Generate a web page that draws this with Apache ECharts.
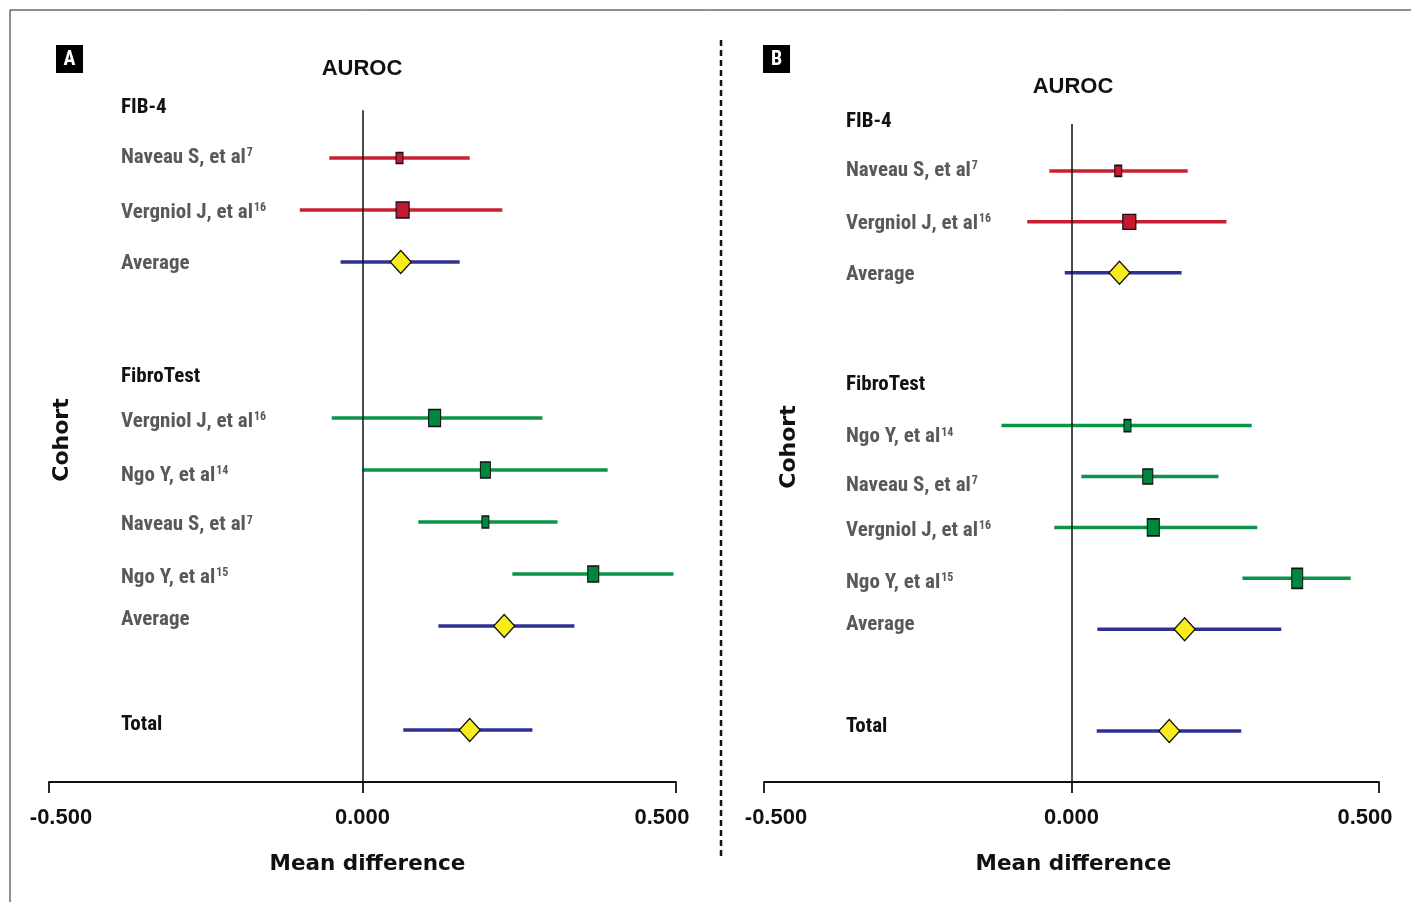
<!DOCTYPE html>
<html>
<head>
<meta charset="utf-8">
<script src="https://cdn.jsdelivr.net/npm/echarts@6/dist/echarts.min.js"></script>
<style>
html,body{margin:0;padding:0;background:#fff;}
#chart{width:1411px;height:902px;}
</style>
</head>
<body>
<div id="chart"></div>
<script>
// ---------- data ----------
const xTicks = [-0.5, 0, 0.5];

const rowsA = ['FIB-4','Naveau S, et al','Vergniol J, et al','Average','','FibroTest','Vergniol J, et al','Ngo Y, et al','Naveau S, et al','Ngo Y, et al','Average','','Total',''];
const refsA = ['','7','16','','','','16','14','7','15','','','',''];
const rowsB = ['FIB-4','Naveau S, et al','Vergniol J, et al','Average','','FibroTest','Ngo Y, et al','Naveau S, et al','Vergniol J, et al','Ngo Y, et al','Average','','Total',''];
const refsB = ['','7','16','','','','14','7','16','15','','','',''];
const headerRows = ['FIB-4','FibroTest','Total'];

// Panel A
const fib4RowA = [1, 2];
const fib4EstA = [0.059, 0.064];
const fib4LoA  = [-0.053, -0.100];
const fib4HiA  = [0.171, 0.223];
const fibroRowA = [6, 7, 8, 9];
const fibroEstA = [0.115, 0.196, 0.196, 0.368];
const fibroLoA  = [-0.049, 0.000, 0.089, 0.239];
const fibroHiA  = [0.287, 0.391, 0.311, 0.496];
const pooledRowA = [3, 10, 12];
const pooledEstA = [0.061, 0.226, 0.171];
const pooledLoA  = [-0.035, 0.121, 0.065];
const pooledHiA  = [0.155, 0.338, 0.271];

// Panel B
const fib4RowB = [1, 2];
const fib4EstB = [0.076, 0.094];
const fib4LoB  = [-0.036, -0.072];
const fib4HiB  = [0.189, 0.252];
const fibroRowB = [6, 7, 8, 9];
const fibroEstB = [0.091, 0.124, 0.133, 0.367];
const fibroLoB  = [-0.114, 0.016, -0.028, 0.278];
const fibroHiB  = [0.293, 0.239, 0.302, 0.454];
const pooledRowB = [3, 10, 12];
const pooledEstB = [0.078, 0.184, 0.159];
const pooledLoB  = [-0.011, 0.042, 0.041];
const pooledHiB  = [0.179, 0.341, 0.276];

// ---------- styles ----------
const boxFib4A  = [[7,11],[13,16]];
const boxFibroA = [[12,17],[10,16],[7,12],[11,16]];
const boxFib4B  = [[7,11],[13,15]];
const boxFibroB = [[7,12],[10,15],[12,17],[11,20]];
// vertical shift (px, + = down) of each row label relative to its row
const shiftA = [3.5, 1, 4, 3, 0, 12, 5, 7, 4.5, 5, -4.5, 0, -3.5, 0];
const shiftB = [3.5, 1, 3.5, 3.5, 0, 11.5, 13, 11, 5, 5.5, -3, 0, -2.5, 0];

const RED = '#c81f33', RED_FILL = '#c41a2e';
const GREEN = '#0b9448', GREEN_FILL = '#00873f';
const BLUE = '#2e3192';
const YELLOW = '#f8ec1c';
const GRAY = '#58595b';
const NARROW = "'Roboto Condensed','DejaVu Sans Condensed',sans-serif";
const ARIAL = "'Liberation Sans',Arial,sans-serif";
const WIDE = "'DejaVu Sans',sans-serif";

function ciSeries(gi, rows, lo, hi, color) {
  return {
    type: 'custom', xAxisIndex: gi, yAxisIndex: gi, z: 2,
    data: rows.map((r, i) => [lo[i], hi[i], r]),
    encode: { x: [0, 1], y: 2 },
    renderItem: function (params, api) {
      const p1 = api.coord([api.value(0), api.value(2)]);
      const p2 = api.coord([api.value(1), api.value(2)]);
      return { type: 'line', shape: { x1: p1[0], y1: p1[1], x2: p2[0], y2: p2[1] },
               style: { stroke: color, lineWidth: 3.5 } };
    }
  };
}
function boxSeries(gi, rows, est, sizes, fill) {
  return {
    type: 'scatter', xAxisIndex: gi, yAxisIndex: gi, z: 5, symbol: 'rect',
    data: rows.map((r, i) => ({ value: [est[i], r], symbolSize: sizes[i] })),
    itemStyle: { color: fill, borderColor: '#111', borderWidth: 1.3, opacity: 1 }
  };
}
function diamondSeries(gi, rows, est) {
  return {
    type: 'scatter', xAxisIndex: gi, yAxisIndex: gi, z: 6, symbol: 'diamond', symbolSize: [21, 23],
    data: rows.map((r, i) => [est[i], r]),
    itemStyle: { color: YELLOW, borderColor: '#111', borderWidth: 1.3, opacity: 1 }
  };
}
function zeroLine(gi) {
  return {
    type: 'line', xAxisIndex: gi, yAxisIndex: gi, data: [], z: 1,
    markLine: { silent: true, symbol: 'none', label: { show: false },
      lineStyle: { color: '#111', width: 1.5, type: 'solid' },
      data: [[{ coord: [0, 0.08] }, { coord: [0, 13] }]] }
  };
}

function xAxisCfg(gi, namePad) {
  const f = { fontFamily: ARIAL, fontWeight: 'bold', fontSize: 22, color: '#111' };
  return {
    type: 'value', gridIndex: gi, min: xTicks[0], max: xTicks[xTicks.length - 1], interval: 0.5,
    splitLine: { show: false },
    axisLine: { show: true, onZero: false, lineStyle: { color: '#111', width: 1.8 } },
    axisTick: { show: true, length: 11, lineStyle: { color: '#111', width: 1.8 } },
    axisLabel: Object.assign({
      margin: 25,
      formatter: v => v < 0 ? '{mn|' + v.toFixed(3) + '}' : (v > 0 ? '{mx|' + v.toFixed(3) + '}' : v.toFixed(3)),
      rich: {
        mn: Object.assign({ padding: [0, 0, 0, 24] }, f),
        mx: Object.assign({ padding: [0, 28, 0, 0] }, f)
      }
    }, f),
    name: 'Mean difference', nameLocation: 'middle', nameGap: 71,
    nameTextStyle: { fontFamily: WIDE, fontWeight: 'bold', fontSize: 21.5, color: '#111', padding: namePad }
  };
}
function yAxisCfg(gi, rows, refs, shift, margin) {
  const U = 6, L = 24 + 2 * U;
  const rich = {};
  rows.forEach((name, i) => {
    const top = U + (shift[i] || 0);
    rich['h' + i] = { fontFamily: NARROW, fontWeight: 'bold', fontSize: 21, color: '#111', lineHeight: L, verticalAlign: 'top', padding: [top, 0, 0, 0] };
    rich['s' + i] = { fontFamily: NARROW, fontWeight: 'bold', fontSize: 21, color: GRAY, lineHeight: L, verticalAlign: 'top', padding: [top, 0, 0, 0] };
    rich['p' + i] = { fontFamily: NARROW, fontWeight: 'bold', fontSize: 12, color: GRAY, lineHeight: 12, verticalAlign: 'top', padding: [top, 0, 10, 1] };
  });
  return {
    type: 'value', gridIndex: gi, min: 0, max: 13, interval: 1, inverse: true,
    splitLine: { show: false }, axisLine: { show: false }, axisTick: { show: false },
    axisLabel: {
      inside: true, margin: margin, align: 'left',
      formatter: function (v) {
        const i = Math.round(v);
        const name = rows[i] || '';
        if (!name) return '';
        if (headerRows.indexOf(name) >= 0) return '{h' + i + '|' + name + '}';
        return '{s' + i + '|' + name + '}' + (refs[i] ? '{p' + i + '|' + refs[i] + '}' : '');
      },
      rich: rich
    }
  };
}

const titleStyle = { fontFamily: ARIAL, fontWeight: 'bold', fontSize: 22, color: '#111' };
const option = {
  animation: false,
  backgroundColor: '#fff',
  title: [
    { text: 'AUROC', left: 357, top: 53, textAlign: 'center', textStyle: titleStyle },
    { text: 'AUROC', left: 1068, top: 71, textAlign: 'center', textStyle: titleStyle }
  ],
  grid: [
    { left: 49, top: 106, width: 627, height: 676 },
    { left: 764, top: 120, width: 615, height: 662 }
  ],
  xAxis: [xAxisCfg(0, [0, 0, 0, 10]), xAxisCfg(1, [0, 0, 0, 4])],
  yAxis: [yAxisCfg(0, rowsA, refsA, shiftA, 72), yAxisCfg(1, rowsB, refsB, shiftB, 82)],
  series: [
    zeroLine(0),
    ciSeries(0, fib4RowA, fib4LoA, fib4HiA, RED),
    ciSeries(0, fibroRowA, fibroLoA, fibroHiA, GREEN),
    ciSeries(0, pooledRowA, pooledLoA, pooledHiA, BLUE),
    boxSeries(0, fib4RowA, fib4EstA, boxFib4A, RED_FILL),
    boxSeries(0, fibroRowA, fibroEstA, boxFibroA, GREEN_FILL),
    diamondSeries(0, pooledRowA, pooledEstA),
    zeroLine(1),
    ciSeries(1, fib4RowB, fib4LoB, fib4HiB, RED),
    ciSeries(1, fibroRowB, fibroLoB, fibroHiB, GREEN),
    ciSeries(1, pooledRowB, pooledLoB, pooledHiB, BLUE),
    boxSeries(1, fib4RowB, fib4EstB, boxFib4B, RED_FILL),
    boxSeries(1, fibroRowB, fibroEstB, boxFibroB, GREEN_FILL),
    diamondSeries(1, pooledRowB, pooledEstB)
  ],
  graphic: [
    { type: 'line', shape: { x1: 10, y1: 10, x2: 1411, y2: 10 }, style: { stroke: '#222', lineWidth: 1 } },
    { type: 'line', shape: { x1: 10, y1: 10, x2: 10, y2: 902 }, style: { stroke: '#222', lineWidth: 1 } },
    { type: 'line', shape: { x1: 721, y1: 40, x2: 721, y2: 858 }, style: { stroke: '#111', lineWidth: 2.5, lineDash: [6, 4] } },
    { type: 'rect', shape: { x: 56, y: 45, width: 27, height: 28 }, style: { fill: '#000' } },
    { type: 'text', x: 69.5, y: 59.5, style: { text: 'A', fill: '#fff', font: "bold 20px " + NARROW, textAlign: 'center', textVerticalAlign: 'middle' } },
    { type: 'rect', shape: { x: 763, y: 45, width: 27, height: 28 }, style: { fill: '#000' } },
    { type: 'text', x: 776.5, y: 59.5, style: { text: 'B', fill: '#fff', font: "bold 20px " + NARROW, textAlign: 'center', textVerticalAlign: 'middle' } },
    { type: 'text', x: 62, y: 440, rotation: Math.PI / 2, style: { text: 'Cohort', fill: '#111', font: "bold 22px " + WIDE, textAlign: 'center', textVerticalAlign: 'middle' } },
    { type: 'text', x: 789, y: 447, rotation: Math.PI / 2, style: { text: 'Cohort', fill: '#111', font: "bold 22px " + WIDE, textAlign: 'center', textVerticalAlign: 'middle' } }
  ]
};

const chart = echarts.init(document.getElementById('chart'), null, { renderer: 'canvas' });
chart.setOption(option);
</script>
</body>
</html>
